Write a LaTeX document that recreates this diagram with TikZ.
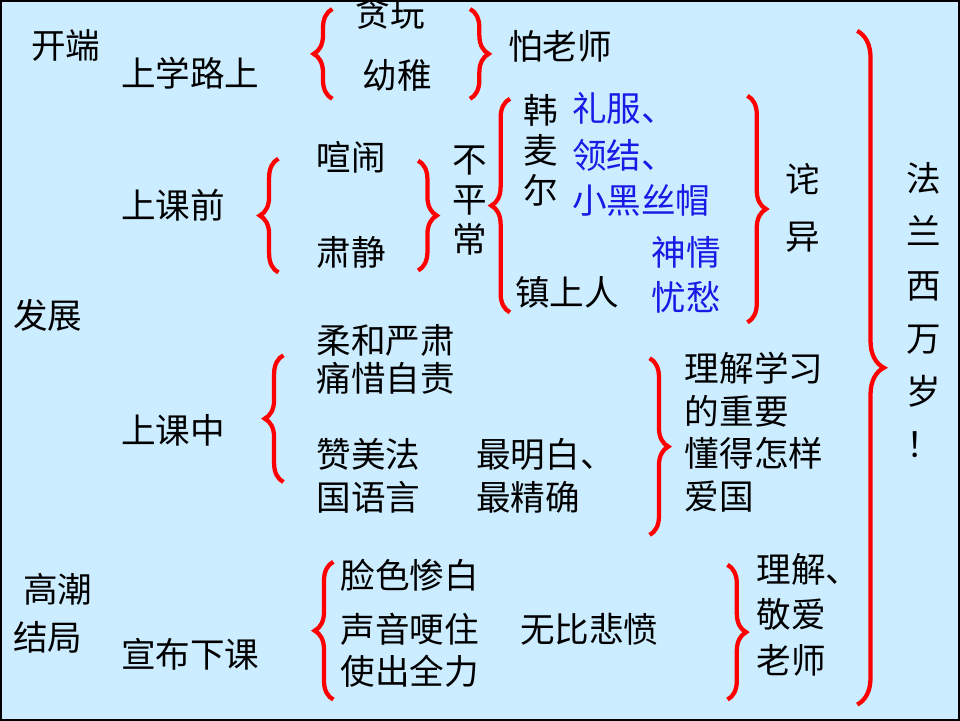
\documentclass[tikz,border=0pt]{standalone}
\usepackage{fontspec}
\setmainfont{Noto Sans CJK SC}
\usetikzlibrary{decorations.pathreplacing}
\definecolor{bgblue}{HTML}{CCECFF}
\definecolor{txtblue}{HTML}{1A1AE6}
\tikzset{
  word/.style={font=\fontsize{26}{32}\selectfont, inner sep=0pt, align=left, anchor=west},
  blueword/.style={word, text=txtblue},
  vword/.style={font=\fontsize{26}{30}\selectfont, inner sep=0pt, align=center},
  bracel/.style={draw=red, line width=3.2pt, decorate, decoration={brace, amplitude=14pt}},
}
\begin{document}
\begin{tikzpicture}[x=0.75pt, y=-0.75pt]
				% background
				\fill[bgblue] (0,0) rectangle (960,720);
				\draw[line width=1.5pt] (0,0) rectangle (960,720);
				\useasboundingbox (0,0) rectangle (960,720);

				% stages
				\node[word] (kaiduan) at (30,45) {开端};
				\node[word] (fazhan) at (12,315) {发展};
				\node[word] (gaochao) at (22,590) {高潮};
				\node[word] (jieju) at (12,638) {结局};

				% on the way to school
				\node[word] (lushang) at (120,72) {上学路上};
				\node[word] (tanwan) at (355,12) {贪玩};
				\node[word] (youzhi) at (362,75) {幼稚};
				\node[word] (palaoshi) at (508,45) {怕老师};
				\draw[bracel] (332,98) -- (332,8);
				\draw[bracel] (470,8) -- (470,98);

				% before class
				\node[word] (keqian) at (120,205) {上课前};
				\node[word] (xuannao) at (316,157) {喧闹};
				\node[word] (sujing) at (316,252) {肃静};
				\node[vword] (bupingchang) at (470,200) {不\\平\\常};
				\node[vword] (hanmaier) at (541,150) {韩\\麦\\尔};
				\node[blueword] (lifu) at (572,108) {礼服、};
				\node[blueword] (lingjie) at (572,155) {领结、};
				\node[blueword] (simao) at (572,200) {小黑丝帽};
				\node[word] (zhenshang) at (515,292) {镇上人};
				\node[blueword] (shenqing) at (652,252) {神情};
				\node[blueword] (yuchou) at (652,297) {忧愁};
				\node[vword, font=\fontsize{26}{43}\selectfont] (chayi) at (803,207) {诧\\异};
				\draw[bracel] (278,272) -- (278,158);
				\draw[bracel] (418,160) -- (418,270);
				\draw[bracel] (510,312) -- (510,98);
				\draw[bracel] (748,95) -- (748,322);

				% in class
				\node[word] (kezhong) at (120,430) {上课中};
				\node[word] (rouhe) at (316,340) {柔和严肃};
				\node[word] (tongxi) at (316,378) {痛惜自责};
				\node[word] (zanmei) at (316,476) {赞美法\\国语言};
				\node[word] (mingbai) at (476,476) {最明白、\\最精确};
				\node[word] (lijie) at (685,432) {理解学习\\的重要\\懂得怎样\\爱国};
				\draw[bracel] (283,482) -- (283,355);
				\draw[bracel] (650,358) -- (650,535);

				% end of class
				\node[word] (xiake) at (120,655) {宣布下课};
				\node[word] (lianse) at (340,575) {脸色惨白};
				\node[word] (shengyin) at (340,630) {声音哽住};
				\node[word] (quanli) at (340,672) {使出全力};
				\node[word] (beifen) at (520,630) {无比悲愤};
				\node[word, font=\fontsize{26}{34}\selectfont] (jingai) at (757,615) {理解、\\敬爱\\老师};
				\draw[bracel] (333,700) -- (333,562);
				\draw[bracel] (728,565) -- (728,700);

				% conclusion
				\draw[bracel, decoration={brace, amplitude=20pt}] (858,30) -- (858,705);
				\node[vword, font=\fontsize{26}{40}\selectfont] (wansui) at (925,310) {法\\兰\\西\\万\\岁\\！};
\end{tikzpicture}
\end{document}
